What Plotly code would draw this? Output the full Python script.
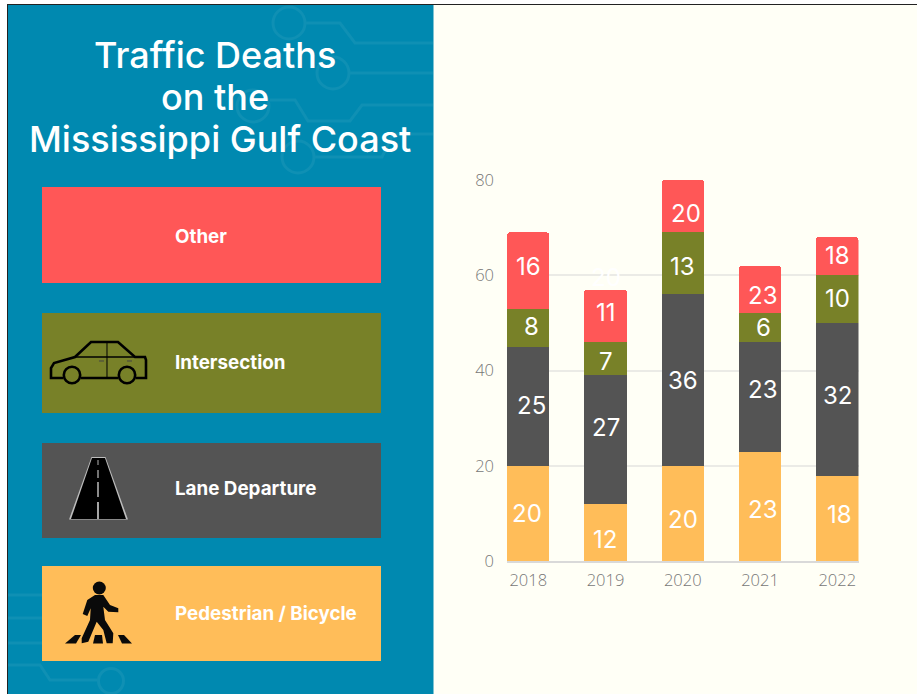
import plotly.graph_objects as go

W, H = 917, 694

years = ["2018", "2019", "2020", "2021", "2022"]
pedestrian = [20, 12, 20, 23, 18]
lane_departure = [25, 27, 36, 23, 32]
intersection = [8, 7, 13, 6, 10]
other = [16, 11, 11, 10, 8]
other_labels = [16, 11, 20, 23, 18]
y_ticks = [0, 20, 40, 60, 80]
title_lines = ["Traffic Deaths", "on the", "Mississippi Gulf Coast"]
legend_labels = ["Other", "Intersection", "Lane Departure", "Pedestrian / Bicycle"]

RED, OLIVE, DARK, ORANGE = "#FF5757", "#788128", "#545454", "#FFBD59"
TEAL, CREAM, CIRCUIT = "#0089B0", "#FFFFF6", "#0F90B4"

LABEL_FONT = "Inter"
TICK_FONT = "Open Sans"
HEAD_FONT = "Inter"


def px(x):
    return x / W


def py(y):
    return 1 - y / H


def path(points, close=False):
    d = "M" + " L".join(f"{px(x):.5f},{py(y):.5f}" for x, y in points)
    return d + (" Z" if close else "")


def rect(x0, y0, x1, y1, color):
    return dict(type="rect", xref="paper", yref="paper", x0=px(x0), x1=px(x1), y0=py(y0), y1=py(y1),
                fillcolor=color, line_width=0, layer="below")


def poly(points, fill=None, stroke=None, width=0, close=False):
    return dict(type="path", xref="paper", yref="paper", path=path(points, close),
                fillcolor=fill or "rgba(0,0,0,0)",
                line=dict(color=stroke or "rgba(0,0,0,0)", width=width), layer="below")


def circle(cx, cy, r, fill=None, stroke=None, width=0):
    return dict(type="circle", xref="paper", yref="paper", x0=px(cx - r), x1=px(cx + r), y0=py(cy - r), y1=py(cy + r),
                fillcolor=fill or "rgba(0,0,0,0)",
                line=dict(color=stroke or "rgba(0,0,0,0)", width=width), layer="below")


shapes = [
    rect(0, 0, W, H, "#FFFFFF"),
    rect(7, 4, W, H, "#222222"),
    rect(8, 5, W, H, CREAM),
    rect(8, 5, 433.5, H, TEAL),
]

# faint circuit decoration
for pts in [
    [(305, 23), (340, 23), (355, 43), (433, 43)],
    [(350, 73), (433, 73)],
    [(270, 100), (295, 100), (308, 121), (350, 121), (362, 105), (433, 105)],
    [(315, 157), (382, 157), (393, 134), (433, 134)],
    [(8, 595), (42, 595)],
    [(8, 618), (42, 618)],
    [(8, 643), (42, 643)],
    [(8, 665), (40, 665), (50, 680), (98, 680)],
]:
    shapes.append(poly(pts, stroke=CIRCUIT, width=3))
for cx, cy, r in [(289, 23, 16), (333, 73, 16), (253, 106, 16), (298, 157, 16), (111, 681, 12.5)]:
    shapes.append(circle(cx, cy, r, stroke=CIRCUIT, width=3))

# legend blocks
shapes += [
    rect(42, 187, 381, 283, RED),
    rect(42, 313, 381, 413, OLIVE),
    rect(42, 443, 381, 538, DARK),
    rect(42, 566, 381, 661, ORANGE),
]

# car icon
shapes += [
    poly([(63, 378), (51, 378), (51, 368), (54, 363), (75, 357), (91, 342), (118, 342),
          (135, 357), (145, 357), (146, 360), (146, 378), (136, 378)], stroke="#000000", width=2.6),
    poly([(81, 378), (118, 378)], stroke="#000000", width=2.6),
    poly([(75, 357), (135, 357)], stroke="#000000", width=1.5),
    poly([(107, 343), (107, 378)], stroke="#000000", width=1),
    poly([(99, 361), (104, 361)], stroke="#444444", width=1),
    poly([(127, 361), (132, 361)], stroke="#444444", width=1),
    circle(72, 375, 8.2, stroke="#000000", width=2.6),
    circle(127, 375, 8.2, stroke="#000000", width=2.6),
]

# road icon
shapes += [
    poly([(69, 519.5), (91.5, 457), (105.5, 457), (128, 519.5)], fill="#BDBDBD", close=True),
    poly([(71, 519), (92, 458), (105, 458), (126, 519)], fill="#000000", close=True),
    poly([(98, 460), (98, 465)], stroke="#777777", width=1.5),
    poly([(98, 470), (98, 478)], stroke="#999999", width=1.5),
    poly([(98, 482), (98, 497)], stroke="#BBBBBB", width=1.5),
    poly([(98, 502), (98, 519)], stroke="#DDDDDD", width=1.5),
]

# pedestrian icon
INK = "#0A0A0A"
shapes += [
    circle(99.3, 588, 6.5, fill=INK),
    poly([(95, 595), (103.3, 595), (110, 605), (118.3, 608.3), (118.3, 612.3), (108.3, 611.7), (103.3, 606.7),
          (105, 620), (113.3, 633.3), (112.7, 643.3), (106.7, 643.3), (103.3, 630), (96.7, 621.7), (88.3, 641.7),
          (81.7, 643.3), (81.7, 638.3), (90, 620), (90.7, 608.3), (87.3, 616), (82.7, 614), (87.3, 600)],
         fill=INK, close=True),
    poly([(65, 643.5), (75, 635), (81, 635), (76, 643.5)], fill=INK, close=True),
    poly([(93, 643.5), (95, 635), (102, 635), (103, 643.5)], fill=INK, close=True),
    poly([(118, 635), (124, 635), (132, 643.5), (122, 643.5)], fill=INK, close=True),
]

annotations = []


def text(x, y, s, size, font, anchor="center", color="#FFFFFF", weight=None):
    annotations.append(dict(xref="paper", yref="paper", x=px(x), y=py(y), text=s, showarrow=False,
                            xanchor=anchor, yanchor="middle",
                            font=dict(size=size, family=font, color=color, weight=weight)))


for (x, y), s in zip([(215, 55), (215, 97), (220, 139)], title_lines):
    text(x, y, s, 36, HEAD_FONT, weight=500)
for y, s in zip([236.5, 362, 488.5, 613], legend_labels):
    text(173, y, s, 18.8, HEAD_FONT, anchor="left", weight=700)

fig = go.Figure()
series = [
    ("Pedestrian / Bicycle", pedestrian, ORANGE),
    ("Lane Departure", lane_departure, DARK),
    ("Intersection", intersection, OLIVE),
    ("Other", other, RED),
]
for name, vals, color in series:
    fig.add_trace(go.Bar(x=years, y=vals, name=name, marker=dict(color=color, line_width=0)))

# value labels sit at each segment's middle, nudged as in the source
nudge_x = [[-1, -1, 0, 2, 2], [3, 0, 0, 2, 0], [3, 0, 0, 3, 0], [0, 0, 3, 2, 0]]
nudge_y = [[0, -7, -6, -3, 4], [1, 12, 0, 7, 4], [1, -3, -3, 0, 1], [4, 3, -7, -6, 1]]
labels = [pedestrian, lane_departure, intersection, other_labels]
base = [0] * len(years)
for k, (name, vals, color) in enumerate(series):
    for i, yr in enumerate(years):
        annotations.append(dict(x=i, y=base[i] + vals[i] / 2, xref="x", yref="y", text=str(labels[k][i]),
                                showarrow=False, xshift=nudge_x[k][i], yshift=nudge_y[k][i],
                                font=dict(size=24, family=LABEL_FONT, color="#FFFFFF")))
        base[i] += vals[i]

# stray white label behind the 2019 column in the source
annotations.append(dict(x=1, y=60, xref="x", yref="y", text="20", showarrow=False, yshift=-2,
                        font=dict(size=24, family=LABEL_FONT, color="#FFFFFF")))

fig.update_layout(
    width=W, height=H, margin=dict(l=0, r=0, t=0, b=0, pad=0, autoexpand=False), autosize=False,
    barmode="stack", bargap=0.45, barcornerradius=3, showlegend=False,
    paper_bgcolor="#FFFFFF", plot_bgcolor="rgba(0,0,0,0)",
    shapes=shapes, annotations=annotations,
    xaxis=dict(domain=[px(507), px(858.5)], type="category", categoryorder="array", categoryarray=years,
               range=[-0.275, 4.275], showgrid=False, showline=True, linecolor="#D9D9D9", linewidth=1.5,
               ticks="", ticklabelstandoff=3, tickfont=dict(size=16.5, family=TICK_FONT, color="#777777", weight=300)),
    yaxis=dict(domain=[py(561.3), py(180)], range=[0, 80], tickvals=y_ticks, showgrid=True,
               gridcolor="#EBEBE6", gridwidth=1.5, zeroline=False, ticks="", ticklabelstandoff=12,
               tickfont=dict(size=16.5, family=TICK_FONT, color="#777777", weight=300)),
)

fig.write_html("out.html", config={"displayModeBar": False},
               post_script="document.body.style.margin='0';document.documentElement.style.overflow='hidden';")
